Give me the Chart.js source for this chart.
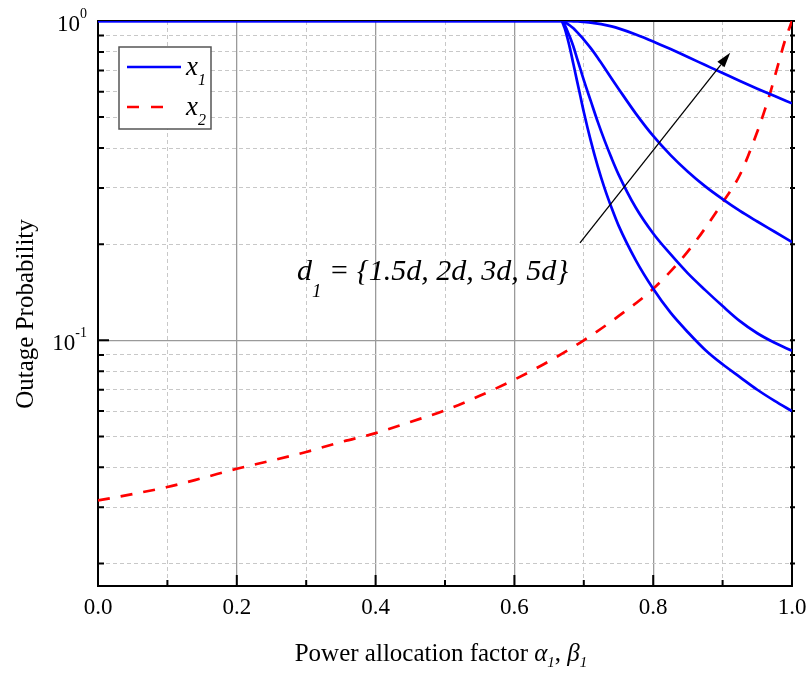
<!DOCTYPE html>
<html>
<head>
<meta charset="utf-8">
<title>Outage Probability</title>
<script src="https://cdn.jsdelivr.net/npm/chart.js@4.4.0/dist/chart.umd.min.js"></script>
<style>
  html, body { margin: 0; padding: 0; background: #fff; }
  #wrap { width: 810px; height: 673px; }
</style>
</head>
<body>
<div id="wrap"><canvas id="outageChart" width="810" height="673"></canvas></div>
<script>
/*===== DATA =====*/
// power allocation factor (alpha_1) for user x1
const alphaX1 = [0, 0.667, 0.672, 0.676, 0.68, 0.685, 0.69, 0.695, 0.70, 0.71, 0.72, 0.73, 0.74, 0.75, 0.775, 0.80, 0.825, 0.85, 0.875, 0.90, 0.925, 0.95, 0.975, 1.0];
// outage of x1, one list per distance d1
const x1d15 = [1, 1, 0.955, 0.891, 0.822, 0.733, 0.653, 0.582, 0.519, 0.422, 0.351, 0.299, 0.260, 0.229, 0.178, 0.145, 0.122, 0.106, 0.0933, 0.0841, 0.0767, 0.070, 0.0646, 0.060];
const x1d2 = [1, 1, 0.977, 0.933, 0.891, 0.832, 0.767, 0.708, 0.653, 0.562, 0.484, 0.422, 0.372, 0.331, 0.260, 0.216, 0.186, 0.162, 0.1436, 0.128, 0.1148, 0.1052, 0.0982, 0.0927];
const x1d3 = [1, 1, 0.9931, 0.9817, 0.9683, 0.9484, 0.9247, 0.8995, 0.875, 0.8222, 0.7674, 0.7129, 0.6607, 0.6138, 0.5129, 0.4365, 0.3802, 0.3373, 0.3034, 0.2767, 0.2541, 0.2355, 0.2188, 0.2032];
const x1d5 = [1, 1, 1, 0.9993, 0.9986, 0.9977, 0.9966, 0.9954, 0.9931, 0.9886, 0.9817, 0.9727, 0.9616, 0.9484, 0.9078, 0.863, 0.8166, 0.7709, 0.7278, 0.6871, 0.6486, 0.6138, 0.5821, 0.5521];

// power allocation factor (beta_1) for user x2
const alphaX2 = [0, 0.05, 0.1, 0.15, 0.2, 0.25, 0.3, 0.35, 0.4, 0.45, 0.5, 0.55, 0.6, 0.65, 0.7, 0.75, 0.8, 0.85, 0.9, 0.925, 0.95, 0.96, 0.97, 0.98, 0.99, 1.0];
const x2Outage = [0.0315, 0.033, 0.0347, 0.037, 0.0396, 0.042, 0.0447, 0.048, 0.0512, 0.0555, 0.0603, 0.067, 0.0753, 0.086, 0.100, 0.119, 0.145, 0.19, 0.27, 0.33, 0.45, 0.52, 0.61, 0.73, 0.87, 1.0];

// log axis ticks
const yTicks = [0.02, 0.03, 0.04, 0.05, 0.06, 0.07, 0.08, 0.09, 0.1, 0.2, 0.3, 0.4, 0.5, 0.6, 0.7, 0.8, 0.9, 1];
const yDecades = [1, 0.1];

// annotation arrow (data coords) and its label
const arrowFrom = [0.6945, 0.202];
const arrowTo = [0.911, 0.795];
const labelAt = [0.2867, 0.154];

/*===== HELPERS =====*/
const serif = "'Liberation Serif', 'Times New Roman', serif";
Chart.defaults.font.family = serif;
Chart.defaults.color = "#000";

const isMajorX = (v) => Math.round(v * 10) % 2 === 0;
const isDecade = (v) => Math.abs(Math.log10(v) - Math.round(Math.log10(v))) < 1e-9;

const pairs = (xs, ys) => xs.map((x, i) => ({ x: x, y: ys[i] }));

function runFont(r) {
  return (r.italic ? "italic " : "") + r.size + "px " + serif;
}

// text made of runs with different size / offset (for sub- and superscripts)
function drawRuns(ctx, runs, x, y, align) {
  let total = 0;
  runs.forEach((r) => {
    ctx.font = runFont(r);
    r.w = ctx.measureText(r.text).width;
    total += r.w;
  });
  let cx = x;
  if (align === "center") cx = x - total / 2;
  if (align === "right") cx = x - total;
  ctx.textAlign = "left";
  ctx.textBaseline = "alphabetic";
  runs.forEach((r) => {
    ctx.font = runFont(r);
    ctx.fillText(r.text, cx, y + (r.dy || 0));
    cx += r.w;
  });
}

/*===== FRAME + INWARD TICKS =====*/
const framePlugin = {
  id: "frame",
  beforeDatasetsDraw(chart) {
    const { ctx, chartArea: a, scales } = chart;
    const xs = scales.x, ys = scales.y;
    ctx.save();
    ctx.strokeStyle = "#000";
    ctx.lineWidth = 2;
    ctx.strokeRect(a.left, a.top, a.right - a.left, a.bottom - a.top);

    ctx.beginPath();
    xs.ticks.forEach((t) => {
      const px = xs.getPixelForValue(t.value);
      const len = isMajorX(t.value) ? 11 : 6;
      ctx.moveTo(px, a.bottom);
      ctx.lineTo(px, a.bottom - len);
    });
    ys.ticks.forEach((t) => {
      const py = ys.getPixelForValue(t.value);
      const len = isDecade(t.value) ? 11 : 6;
      ctx.moveTo(a.left, py);
      ctx.lineTo(a.left + len, py);
      ctx.moveTo(a.right - 2, py);
      ctx.lineTo(a.right + 3, py);
    });
    ctx.stroke();
    ctx.restore();
  },
  afterDatasetsDraw(chart) {
    const { ctx, chartArea: a, scales } = chart;
    const xs = scales.x, ys = scales.y;
    ctx.save();
    ctx.fillStyle = "#000";

    // arrow
    const p0 = { x: xs.getPixelForValue(arrowFrom[0]), y: ys.getPixelForValue(arrowFrom[1]) };
    const p1 = { x: xs.getPixelForValue(arrowTo[0]), y: ys.getPixelForValue(arrowTo[1]) };
    const ang = Math.atan2(p1.y - p0.y, p1.x - p0.x);
    const head = 15, half = 4.5;
    const bx = p1.x - head * Math.cos(ang), by = p1.y - head * Math.sin(ang);
    ctx.strokeStyle = "#000";
    ctx.lineWidth = 1.3;
    ctx.beginPath();
    ctx.moveTo(p0.x, p0.y);
    ctx.lineTo(bx, by);
    ctx.stroke();
    ctx.beginPath();
    ctx.moveTo(p1.x, p1.y);
    ctx.lineTo(bx + half * Math.sin(ang), by - half * Math.cos(ang));
    ctx.lineTo(bx - half * Math.sin(ang), by + half * Math.cos(ang));
    ctx.closePath();
    ctx.fill();

    // d1 label
    drawRuns(ctx, [
      { text: "d", size: 30, italic: true },
      { text: "1", size: 19, italic: true, dy: 17 },
      { text: " = {1.5d, 2d, 3d, 5d}", size: 30, italic: true }
    ], xs.getPixelForValue(labelAt[0]), ys.getPixelForValue(labelAt[1]), "left");

    // legend box
    const lx = a.left + 21, ly = a.top + 26;
    ctx.fillStyle = "#fff";
    ctx.fillRect(lx, ly, 92, 82);
    ctx.strokeStyle = "#555";
    ctx.lineWidth = 1.5;
    ctx.strokeRect(lx, ly, 92, 82);

    ctx.lineWidth = 2.7;
    ctx.strokeStyle = "#0000ff";
    ctx.beginPath();
    ctx.moveTo(lx + 8, ly + 20);
    ctx.lineTo(lx + 62, ly + 20);
    ctx.stroke();
    ctx.strokeStyle = "#ff0000";
    ctx.setLineDash([12, 12]);
    ctx.beginPath();
    ctx.moveTo(lx + 8, ly + 60);
    ctx.lineTo(lx + 44, ly + 60);
    ctx.stroke();
    ctx.setLineDash([]);

    ctx.fillStyle = "#000";
    drawRuns(ctx, [
      { text: "x", size: 27, italic: true },
      { text: "1", size: 16, italic: true, dy: 10 }
    ], lx + 67, ly + 28, "left");
    drawRuns(ctx, [
      { text: "x", size: 27, italic: true },
      { text: "2", size: 16, italic: true, dy: 10 }
    ], lx + 67, ly + 68, "left");
    ctx.restore();
  },
  afterDraw(chart) {
    const { ctx, chartArea: a, scales } = chart;
    const ys = scales.y;
    ctx.save();
    ctx.fillStyle = "#000";

    // 10^n labels on the log axis
    yDecades.forEach((v) => {
      const py = ys.getPixelForValue(v);
      const exp = String(Math.round(Math.log10(v)));
      drawRuns(ctx, [
        { text: "10", size: 23 },
        { text: exp, size: 14, dy: -13 }
      ], a.left - 11, py + 10, "right");
    });

    // x axis title with greek symbols
    drawRuns(ctx, [
      { text: "Power allocation factor ", size: 25 },
      { text: "\u03b1", size: 25, italic: true },
      { text: "1", size: 15, italic: true, dy: 6 },
      { text: ", ", size: 25 },
      { text: "\u03b2", size: 25, italic: true },
      { text: "1", size: 15, italic: true, dy: 6 }
    ], (a.left + a.right) / 2 - 4, 661, "center");

    // y axis title
    ctx.translate(a.left - 72, a.top + 293);
    ctx.rotate(-Math.PI / 2);
    ctx.font = "25px " + serif;
    ctx.textAlign = "center";
    ctx.textBaseline = "middle";
    ctx.fillText("Outage Probability", 0, 0);
    ctx.restore();
  }
};

/*===== CHART =====*/
function gridDash(c) {
  if (!c.tick) return [];
  return c.scale.axis === "x"
    ? (isMajorX(c.tick.value) ? [] : [4, 3])
    : (isDecade(c.tick.value) ? [] : [4, 3]);
}

function createOutageChart() {
  const ctx = document.getElementById("outageChart").getContext("2d");
  const blue = (label, ys) => ({
    label: label,
    data: pairs(alphaX1, ys),
    borderColor: "#0000ff",
    borderWidth: 2.7,
    pointRadius: 0,
    cubicInterpolationMode: "monotone",
    fill: false
  });

  new Chart(ctx, {
    type: "line",
    data: {
      datasets: [
        blue("x1 d1=1.5d", x1d15),
        blue("x1 d1=2d", x1d2),
        blue("x1 d1=3d", x1d3),
        blue("x1 d1=5d", x1d5),
        {
          label: "x2",
          data: pairs(alphaX2, x2Outage),
          borderColor: "#ff0000",
          borderWidth: 2.7,
          borderDash: [12, 11],
          pointRadius: 0,
          cubicInterpolationMode: "monotone",
          fill: false
        }
      ]
    },
    options: {
      responsive: false,
      animation: false,
      devicePixelRatio: 1,
      layout: { padding: { left: 0, top: 21, right: 18, bottom: 0 } },
      plugins: { legend: { display: false }, tooltip: { enabled: false } },
      scales: {
        x: {
          type: "linear",
          min: 0,
          max: 1,
          afterFit: (s) => {
            s.height = 87;
            s.paddingLeft = 0;
            s.paddingRight = 0;
          },
          ticks: {
            stepSize: 0.1,
            autoSkip: false,
            maxRotation: 0,
            padding: 8,
            font: { size: 23 },
            color: "#000",
            callback: (v) => (isMajorX(v) ? v.toFixed(1) : "")
          },
          grid: {
            drawTicks: false,
            color: (c) => (c.tick && isMajorX(c.tick.value) ? "#9a9a9a" : "#c8c8c8"),
            lineWidth: (c) => (c.tick && isMajorX(c.tick.value) ? 1.3 : 1)
          },
          border: { display: true, color: "#000", width: 2, dash: gridDash }
        },
        y: {
          type: "logarithmic",
          min: 0.017,
          max: 1,
          afterFit: (s) => { s.width = 98; },
          afterBuildTicks: (s) => { s.ticks = yTicks.map((v) => ({ value: v, major: isDecade(v) })); },
          ticks: { display: false },
          grid: {
            drawTicks: false,
            color: (c) => (c.tick && isDecade(c.tick.value) ? "#9a9a9a" : "#c8c8c8"),
            lineWidth: (c) => (c.tick && isDecade(c.tick.value) ? 1.3 : 1)
          },
          border: { display: true, color: "#000", width: 2, dash: gridDash }
        }
      }
    },
    plugins: [framePlugin]
  });
}

createOutageChart();
</script>
</body>
</html>
